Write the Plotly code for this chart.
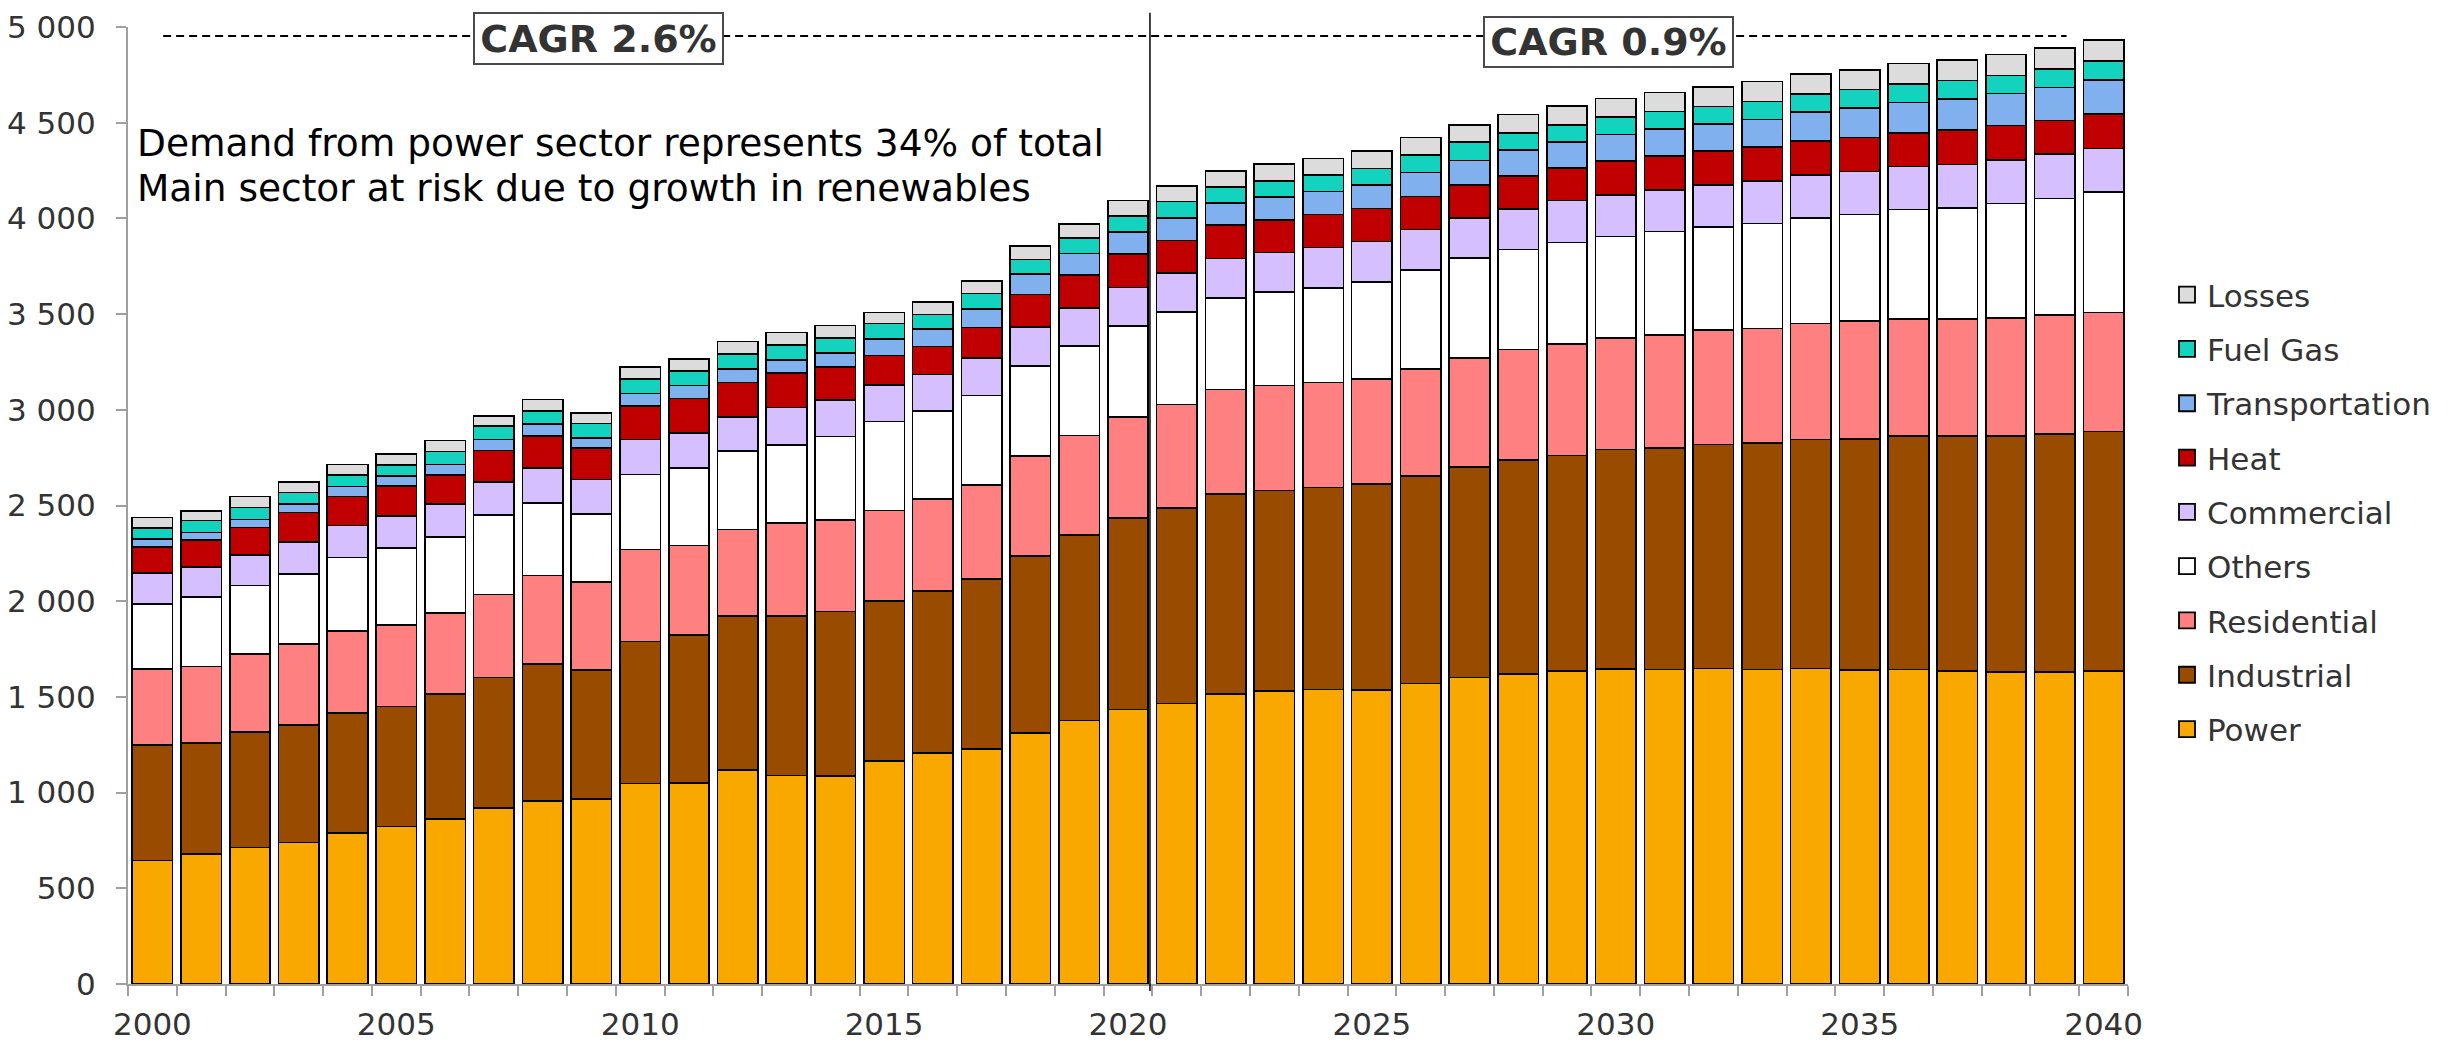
import plotly.graph_objects as go

years = list(range(2000, 2041))

power = [646, 678, 714, 739, 790, 822, 863, 921, 957, 966,
         1047, 1050, 1117, 1090, 1088, 1164, 1207, 1227, 1311, 1376,
         1435, 1466, 1516, 1531, 1538, 1536, 1570, 1601, 1619, 1637,
         1646, 1644, 1649, 1644, 1649, 1640, 1644, 1637, 1631, 1631, 1637]
industrial = [602, 581, 603, 613, 626, 629, 653, 680, 716, 674,
              743, 774, 806, 834, 858, 836, 847, 890, 926, 969,
              1000, 1022, 1044, 1047, 1057, 1076, 1083, 1101, 1118, 1125,
              1146, 1158, 1170, 1184, 1196, 1208, 1218, 1225, 1231, 1243, 1249]
residential = [398, 399, 406, 426, 428, 426, 424, 435, 462, 461,
               480, 468, 451, 484, 477, 475, 479, 490, 521, 520,
               529, 539, 547, 550, 547, 550, 562, 569, 578, 581,
               582, 590, 598, 598, 607, 616, 612, 612, 619, 621, 623]
others = [341, 363, 360, 365, 385, 401, 396, 414, 377, 354,
          392, 405, 412, 409, 438, 465, 462, 469, 472, 470,
          474, 483, 479, 487, 496, 507, 515, 522, 522, 531,
          531, 539, 540, 548, 552, 557, 573, 581, 597, 609, 629]
commercial = [160, 158, 160, 167, 167, 167, 172, 174, 185, 181,
              183, 181, 177, 195, 189, 190, 190, 195, 204, 198,
              202, 205, 205, 207, 210, 210, 212, 210, 214, 219,
              219, 219, 219, 223, 224, 224, 224, 228, 227, 232, 228]
heat = [137, 140, 142, 153, 152, 156, 153, 164, 165, 164,
        176, 181, 181, 181, 173, 155, 146, 160, 169, 171,
        174, 169, 174, 169, 173, 173, 173, 172, 172, 172,
        176, 176, 176, 177, 176, 178, 176, 178, 181, 176, 181]
transportation = [41, 41, 43, 45, 52, 52, 53, 57, 64, 53,
                  65, 69, 71, 69, 74, 86, 92, 97, 107, 112,
                  116, 119, 115, 121, 121, 124, 126, 129, 135, 134,
                  138, 140, 143, 143, 152, 155, 160, 164, 167, 172, 177]
fuel_gas = [59, 61, 61, 60, 59, 60, 69, 72, 69, 76,
            76, 74, 76, 78, 78, 81, 76, 79, 76, 81,
            83, 85, 83, 84, 86, 86, 90, 95, 90, 91,
            91, 93, 91, 95, 95, 95, 95, 95, 95, 98, 98]
losses = [54, 52, 58, 55, 55, 57, 57, 52, 60, 54,
          62, 64, 66, 64, 66, 57, 65, 66, 71, 74,
          81, 81, 86, 88, 86, 90, 93, 91, 95, 98,
          98, 100, 102, 104, 104, 103, 108, 109, 109, 108, 110]

series_names = ["Power", "Industrial", "Residential", "Others", "Commercial",
                "Heat", "Transportation", "Fuel Gas", "Losses"]
series_values = [power, industrial, residential, others, commercial,
                 heat, transportation, fuel_gas, losses]
series_colors = ["#F9A800", "#994C00", "#FF8080", "#FFFFFF", "#D6BFFF",
                 "#C00000", "#80B1EE", "#14D3BE", "#DCDCDC"]

y_ticks = list(range(0, 5001, 500))
x_label_years = [2000, 2005, 2010, 2015, 2020, 2025, 2030, 2035, 2040]

cagr_labels = ["CAGR 2.6%", "CAGR 0.9%"]
note_lines = ["Demand from power sector represents 34% of total",
              "Main sector at risk due to growth in renewables"]

FONT = "DejaVu Sans"
fig = go.Figure()

for name, vals, col in zip(series_names, series_values, series_colors):
    fig.add_trace(go.Bar(
        x=years, y=vals, name=name,
        marker=dict(color=col, line=dict(color="black", width=1.6)),
        showlegend=False,
    ))

# legend entries, top to bottom: Losses ... Power
for name, col in reversed(list(zip(series_names, series_colors))):
    fig.add_trace(go.Scatter(
        x=[None], y=[None], mode="markers", name=name, legendgroup=name,
        marker=dict(symbol="square", size=18, color=col, line=dict(color="black", width=1.8)),
        showlegend=True,
    ))

# the page body adds an 8px offset, so the figure is 8px smaller in each direction
fig.update_layout(
    width=2443, height=1037,
    barmode="stack", bargap=0.17,
    plot_bgcolor="white", paper_bgcolor="white",
    margin=dict(l=120, r=323, t=19, b=61, autoexpand=False),
    separators=". ",
    font=dict(family=FONT, size=31, color="#333333"),
    legend=dict(
        x=1.0195, xanchor="left", y=0.4932, yanchor="middle",
        traceorder="grouped", tracegroupgap=11,
        font=dict(family=FONT, size=31, color="#333333"),
        itemwidth=30, bgcolor="rgba(0,0,0,0)",
    ),
    xaxis=dict(
        range=[1999.5, 2040.5], tickmode="array", tickvals=x_label_years,
        ticktext=[str(v) for v in x_label_years], ticks="", automargin=False,
        showline=True, linecolor="#A0A0A0", linewidth=2,
        showgrid=False, zeroline=False, ticklabelstandoff=12,
        minor=dict(tick0=1999.5, dtick=1, ticks="outside", ticklen=10,
                   tickcolor="#A0A0A0", tickwidth=2, showgrid=False),
        tickfont=dict(family=FONT, size=31, color="#333333"),
    ),
    yaxis=dict(
        range=[0, 5000.5], tickmode="array", tickvals=y_ticks, tickformat=",d",
        ticks="outside", ticklen=10, tickcolor="#A0A0A0", tickwidth=2, automargin=False,
        showline=True, linecolor="#A0A0A0", linewidth=2,
        showgrid=False, zeroline=False, ticklabelstandoff=14,
        ticklabeloverflow="allow",
        tickfont=dict(family=FONT, size=31, color="#333333"),
    ),
)

# dashed CAGR line and period divider
fig.add_shape(type="line", xref="x", yref="paper", x0=2000.22, x1=2039.24, y0=0.9906, y1=0.9906,
              line=dict(color="black", width=2, dash="8px,5px"))
fig.add_shape(type="line", xref="x", yref="paper", x0=2020.45, x1=2020.45, y0=-0.0073, y1=1.0149,
              line=dict(color="black", width=1.5))

fig.add_annotation(x=2009.15, y=0.9875, xref="x", yref="paper", text="<b>" + cagr_labels[0] + "</b>",
                   showarrow=False, xanchor="center", yanchor="middle",
                   font=dict(family=FONT, size=38, color="#333333"),
                   bgcolor="white", bordercolor="#4A4A4A", borderwidth=2, borderpad=2,
                   width=243, height=45)
fig.add_annotation(x=2029.84, y=0.9843, xref="x", yref="paper", text="<b>" + cagr_labels[1] + "</b>",
                   showarrow=False, xanchor="center", yanchor="middle",
                   font=dict(family=FONT, size=38, color="#333333"),
                   bgcolor="white", bordercolor="#4A4A4A", borderwidth=2, borderpad=2,
                   width=243, height=44)

for line_text, ypos in zip(note_lines, [0.8793, 0.8319]):
    fig.add_annotation(x=0.0035, y=ypos, xref="paper", yref="paper", text=line_text,
                       showarrow=False, xanchor="left", yanchor="middle", align="left",
                       font=dict(family=FONT, size=37.5, color="black"))

fig.write_html("out.html")
